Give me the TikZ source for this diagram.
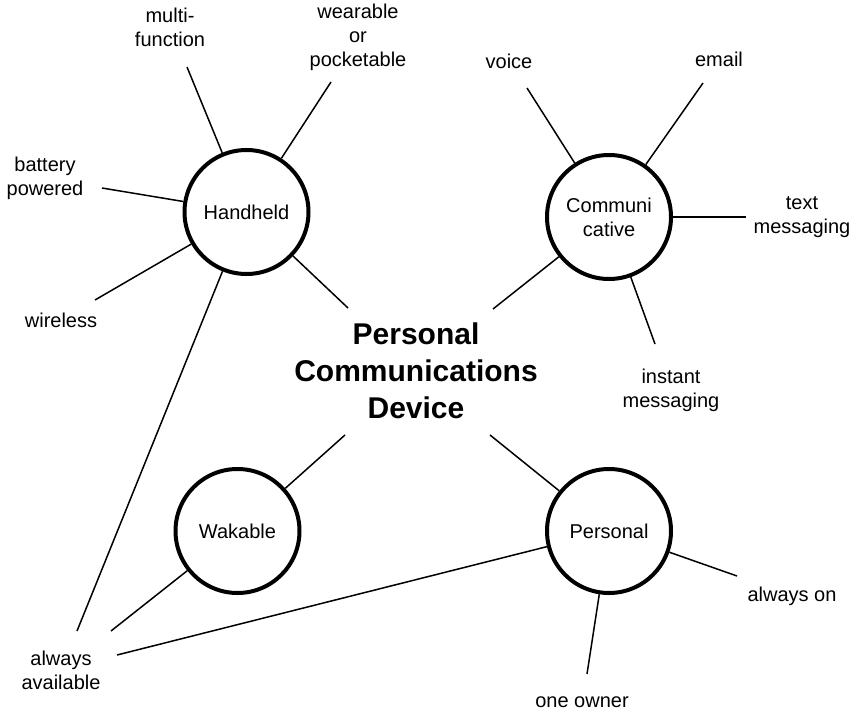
\documentclass[tikz,border=0pt]{standalone}
\usepackage{fontspec}
\setmainfont{Liberation Sans}
\begin{document}
\begin{tikzpicture}[x=1pt,y=-1pt,
  hub/.style={circle,draw=black,line width=4pt,minimum size=124pt,inner sep=0pt,
    align=center,font=\fontsize{20}{24}\selectfont},
  leaf/.style={align=center,inner sep=0pt,font=\fontsize{20}{24}\selectfont},
  link/.style={draw=black,line width=1.5pt},
  core/.style={align=center,inner sep=0pt,font=\fontsize{30}{37}\selectfont\bfseries}]
\useasboundingbox[fill=white] (0,0) rectangle (856,714);

% central topic
\node[core] (core) at (416,371) {Personal\\Communications\\Device};

% four aspects
\node[hub] (hh) at (246.5,212) {Handheld};
\node[hub] (cm) at (609,217) {Communi\\cative};
\node[hub] (wk) at (237.5,531) {Wakable};
\node[hub] (ps) at (609,531) {Personal};

% attribute labels
\node[leaf] (multi) at (170,27) {multi-\\function};
\node[leaf] (wear) at (358,37) {wearable\\or\\pocketable};
\node[leaf] (batt) at (45,178) {battery\\powered};
\node[leaf] (wire) at (61,320) {wireless};
\node[leaf] (voice) at (509,61) {voice};
\node[leaf] (email) at (719,59) {email};
\node[leaf] (text) at (802,217) {text\\messaging};
\node[leaf] (inst) at (671,390) {instant\\messaging};
\node[leaf] (alon) at (792,596) {always on};
\node[leaf] (own) at (582,702) {one owner};
\node[leaf] (avail) at (61,670) {always\\available};

% free ends of the spokes
\coordinate (e-multi) at (187,67);
\coordinate (e-wear) at (331,82);
\coordinate (e-batt) at (102,188);
\coordinate (e-wire) at (95,300);
\coordinate (e-hhav) at (77,631);
\coordinate (e-hhcore) at (348,308);
\coordinate (e-voice) at (527,88);
\coordinate (e-email) at (703,83);
\coordinate (e-text) at (746,217);
\coordinate (e-cmcore) at (493,309);
\coordinate (e-inst) at (655,344);
\coordinate (e-wkcore) at (345,435);
\coordinate (e-wkav) at (111,631);
\coordinate (e-pscore) at (490,435);
\coordinate (e-psav) at (117,655);
\coordinate (e-alon) at (737,576);
\coordinate (e-own) at (587,674);

% spokes
\draw[link] (hh) -- (e-multi);
\draw[link] (hh) -- (e-wear);
\draw[link] (hh) -- (e-batt);
\draw[link] (hh) -- (e-wire);
\draw[link] (hh) -- (e-hhav);
\draw[link] (hh) -- (e-hhcore);
\draw[link] (cm) -- (e-voice);
\draw[link] (cm) -- (e-email);
\draw[link] (cm) -- (e-text);
\draw[link] (cm) -- (e-cmcore);
\draw[link] (cm) -- (e-inst);
\draw[link] (wk) -- (e-wkcore);
\draw[link] (wk) -- (e-wkav);
\draw[link] (ps) -- (e-pscore);
\draw[link] (ps) -- (e-psav);
\draw[link] (ps) -- (e-alon);
\draw[link] (ps) -- (e-own);
\end{tikzpicture}
\end{document}
